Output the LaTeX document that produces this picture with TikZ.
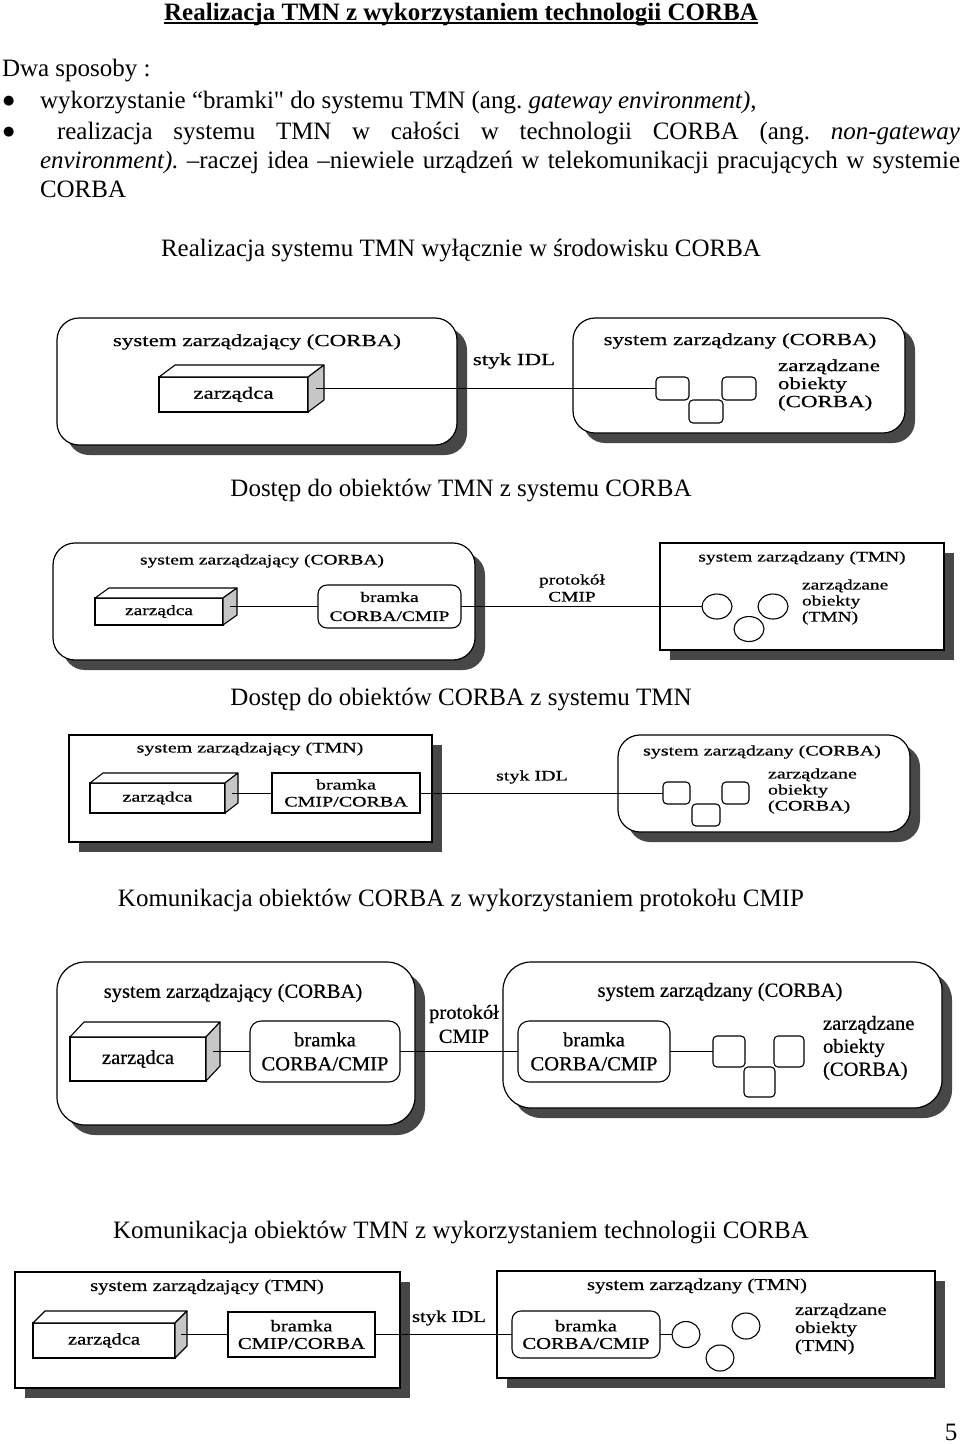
\documentclass[tikz,border=0pt]{standalone}
\usepackage{fontspec}
\setmainfont{Liberation Serif}
\newfontfamily\dfa[FakeStretch=1.35,FakeBold=0.6]{Liberation Serif}
\newfontfamily\dfb[FakeStretch=1.34,FakeBold=0.6]{Liberation Serif}
\newfontfamily\dfc[FakeStretch=1.38,FakeBold=0.6]{Liberation Serif}
\newfontfamily\dfd[FakeStretch=1.03,FakeBold=0.6]{Liberation Serif}
\newfontfamily\dfe[FakeStretch=1.25,FakeBold=0.6]{Liberation Serif}
\newfontfamily\plainq[Ligatures=TeXOff]{Liberation Serif}
\newfontfamily\bulfont{DejaVu Sans}
\usetikzlibrary{shadows,shapes.geometric,calc}
\frenchspacing
\tikzset{
  body/.style={inner sep=0, outer sep=0, font=\fontsize{25}{30}\selectfont, anchor=base west},
  bull/.style={inner sep=0, outer sep=0, font=\bulfont\fontsize{13}{14}\selectfont, anchor=base west},
  capt/.style={inner sep=0, outer sep=0, font=\fontsize{25}{30}\selectfont, anchor=base},
  sysbox/.style={draw, line width=1.2pt, fill=white, inner sep=0, outer sep=0, anchor=north west,
     drop shadow={shadow xshift=10pt, shadow yshift=-10pt, fill=black!72, opacity=1}},
  roundsys/.style={sysbox, rounded corners=22pt},
  sqsys/.style={sysbox},
  gate/.style={draw, line width=1.1pt, fill=white, inner sep=0, outer sep=0, anchor=north west, rounded corners=9pt, align=center},
  gatesq/.style={draw, line width=1.1pt, fill=white, inner sep=0, outer sep=0, anchor=north west, align=center},
  obj/.style={draw, line width=1.1pt, fill=white, inner sep=0, outer sep=0, anchor=north west, rounded corners=4pt},
  circ/.style={draw, ellipse, line width=1.1pt, fill=white, inner sep=0, outer sep=0},
  cubefront/.style={draw, line width=1.1pt, fill=white, inner sep=0, outer sep=0, anchor=north west},
  cubeline/.style={line width=1.1pt, line join=round},
  conn/.style={line width=1pt},
  fa/.style={inner sep=0, outer sep=0, font=\dfa\fontsize{17}{18}\selectfont},
  fb/.style={inner sep=0, outer sep=0, font=\dfb\fontsize{14.5}{16}\selectfont},
  fc/.style={inner sep=0, outer sep=0, font=\dfc\fontsize{14.5}{16}\selectfont},
  fd/.style={inner sep=0, outer sep=0, font=\dfd\fontsize{20}{23}\selectfont},
  fe/.style={inner sep=0, outer sep=0, font=\dfe\fontsize{16.5}{18}\selectfont},
}
% name, x, y, W, H, dx, dy, style, text
\newcommand{\zcube}[9]{%
  \node[cubefront, #8, minimum width=#4pt, minimum height=#5pt] (#1) at (#2,#3) {#9};
  \draw[cubeline, fill=white] (#1.north west) -- ++(#6,-#7) -- ++(#4,0) -- (#1.north east) -- cycle;
  \draw[cubeline, fill=gray!45] (#1.north east) -- ++(#6,-#7) -- ++(0,#5) -- (#1.south east) -- cycle;
  \coordinate (#1r) at ($(#1.east)+(#6/2,-#7/2)$);
}
\begin{document}
\begin{tikzpicture}[x=1pt,y=-1pt]
\useasboundingbox (0,0) rectangle (960,1444);
\fill[white] (0,0) rectangle (960,1444);

% ---------- header text ----------
\node[inner sep=0, outer sep=0, anchor=base, font=\bfseries\fontsize{25}{30}\selectfont] (title) at (461,20) {Realizacja TMN z wykorzystaniem technologii CORBA};
\draw[line width=1.5pt] ([yshift=2.5pt]title.south west) -- ([yshift=2.5pt]title.south east);

\node[body] (t0) at (2,76) {Dwa sposoby :};
\node[bull] (bu1) at (3,104.5) {●};
\node[body] (t1) at (40,108) {wykorzystanie “bramki{\plainq "} do systemu TMN (ang. \textit{gateway environment)},};
\node[bull] (bu2) at (3,135.5) {●};
\node[body] (t2) at (57,139) {\makebox[903pt][s]{realizacja systemu TMN w całości w technologii CORBA (ang. \textit{non-gateway}}};
\node[body] (t3) at (40,168) {\makebox[920pt][s]{\textit{environment).} –raczej idea –niewiele urządzeń w telekomunikacji pracujących w systemie}};
\node[body] (t4) at (40,197) {CORBA};

\node[capt] (cap1) at (461,256) {Realizacja systemu TMN wyłącznie w środowisku CORBA};

% ---------- diagram 1 ----------
\node[roundsys, minimum width=400pt, minimum height=127pt] (L1) at (57,318) {};
\node[roundsys, minimum width=332pt, minimum height=115pt] (R1) at (573,318) {};
\node[fa] (L1t) at (257,342) {system zarządzający (CORBA)};
\node[fa] (R1t) at (740,341) {system zarządzany (CORBA)};
\zcube{z1}{159}{377}{149}{35}{16}{12}{fa}{zarządca}
\node[fa] (s1) at (514,361) {styk IDL};
\node[obj, minimum width=33pt, minimum height=23pt] (o11) at (656,377) {};
\node[obj, minimum width=34pt, minimum height=23pt] (o12) at (722,377) {};
\node[obj, minimum width=34pt, minimum height=23pt] (o13) at (689,400) {};
\draw[conn] (z1r) -- (o11.west);
\node[fa, align=left, anchor=west] (m1) at (778,385) {zarządzane\\obiekty\\(CORBA)};

\node[capt] (cap2) at (461,496) {Dostęp do obiektów TMN z systemu CORBA};

% ---------- diagram 2 ----------
\node[roundsys, minimum width=422pt, minimum height=117pt] (L2) at (53,543) {};
\node[sqsys, minimum width=284pt, minimum height=107pt] (R2) at (660,543) {};
\node[fb] (L2t) at (262,561) {system zarządzający (CORBA)};
\node[fb] (R2t) at (802,558) {system zarządzany (TMN)};
\zcube{z2}{95}{598}{128}{27}{14}{10}{fb}{zarządca}
\node[gate, fb, font=\dfb\fontsize{14.5}{19}\selectfont, minimum width=143pt, minimum height=43pt] (b2) at (318,585) {bramka\\CORBA/CMIP};
\node[fb, align=center, font=\dfb\fontsize{14.5}{17}\selectfont] (p2) at (572,588) {protokół\\CMIP};
\node[circ, minimum width=30pt, minimum height=25pt] (c21) at (717,606.5) {};
\node[circ, minimum width=30pt, minimum height=25pt] (c22) at (773,606.5) {};
\node[circ, minimum width=30pt, minimum height=25pt] (c23) at (749,629) {};
\draw[conn] (z2r) -- (b2.west);
\draw[conn] (b2.east) -- (c21.west);
\node[fb, align=left, anchor=west] (m2) at (802,602) {zarządzane\\obiekty\\(TMN)};

\node[capt] (cap3) at (461,705) {Dostęp do obiektów CORBA z systemu TMN};

% ---------- diagram 3 ----------
\node[sqsys, minimum width=363pt, minimum height=107pt] (L3) at (69,735) {};
\node[roundsys, minimum width=292pt, minimum height=97pt] (R3) at (618,735) {};
\node[fc] (L3t) at (250,749) {system zarządzający (TMN)};
\node[fc] (R3t) at (762,752) {system zarządzany (CORBA)};
\zcube{z3}{90}{783}{135}{30}{13}{10}{fc}{zarządca}
\node[gatesq, fc, font=\dfc\fontsize{14.5}{17}\selectfont, minimum width=148pt, minimum height=40pt] (b3) at (272,773) {bramka\\CMIP/CORBA};
\node[fc] (s3) at (532,777) {styk IDL};
\node[obj, minimum width=27pt, minimum height=22pt] (o31) at (663,782) {};
\node[obj, minimum width=27pt, minimum height=22pt] (o32) at (722,782) {};
\node[obj, minimum width=28pt, minimum height=22pt] (o33) at (692,804) {};
\draw[conn] (z3r) -- (b3.west);
\draw[conn] (b3.east) -- (o31.west);
\node[fc, align=left, anchor=west] (m3) at (768,791) {zarządzane\\obiekty\\(CORBA)};

\node[capt] (cap4) at (461,906) {Komunikacja obiektów CORBA z wykorzystaniem protokołu CMIP};

% ---------- diagram 4 ----------
\node[roundsys, rounded corners=28pt, minimum width=358pt, minimum height=163pt] (L4) at (57,962) {};
\node[roundsys, rounded corners=28pt, minimum width=439pt, minimum height=146pt] (R4) at (503,962) {};
\node[fd] (L4t) at (233,993) {system zarządzający (CORBA)};
\node[fd] (R4t) at (720,992) {system zarządzany (CORBA)};
\zcube{z4}{70}{1037}{136}{44}{14}{15}{fd}{zarządca}
\node[gate, fd, font=\dfd\fontsize{20}{24}\selectfont, rounded corners=11pt, minimum width=150pt, minimum height=61pt] (b41) at (250,1021) {bramka\\CORBA/CMIP};
\node[gate, fd, font=\dfd\fontsize{20}{24}\selectfont, rounded corners=11pt, minimum width=152pt, minimum height=61pt] (b42) at (518,1021) {bramka\\CORBA/CMIP};
\node[fd, align=center, font=\dfd\fontsize{20}{24}\selectfont] (p4) at (464,1024) {protokół\\CMIP};
\node[obj, minimum width=32pt, minimum height=31pt] (o41) at (713,1036) {};
\node[obj, minimum width=30pt, minimum height=31pt] (o42) at (774,1036) {};
\node[obj, minimum width=31pt, minimum height=30pt] (o43) at (744,1067) {};
\draw[conn] (z4r) -- (b41.west);
\draw[conn] (b41.east) -- (b42.west);
\draw[conn] (b42.east) -- (o41.west);
\node[fd, align=left, anchor=west] (m4) at (823,1048) {zarządzane\\obiekty\\(CORBA)};

\node[capt] (cap5) at (461,1238) {Komunikacja obiektów TMN z wykorzystaniem technologii CORBA};

% ---------- diagram 5 ----------
\node[sqsys, minimum width=385pt, minimum height=116pt] (L5) at (15,1272) {};
\node[sqsys, minimum width=438pt, minimum height=107pt] (R5) at (497,1271) {};
\node[fe] (L5t) at (207,1287) {system zarządzający (TMN)};
\node[fe] (R5t) at (697,1286) {system zarządzany (TMN)};
\zcube{z5}{33}{1323}{142}{35}{12}{12}{fe}{zarządca}
\node[gatesq, fe, font=\dfe\fontsize{16.5}{17.5}\selectfont, minimum width=147pt, minimum height=45pt] (b51) at (228,1312) {bramka\\CMIP/CORBA};
\node[gate, fe, font=\dfe\fontsize{16.5}{17.5}\selectfont, minimum width=148pt, minimum height=47pt] (b52) at (512,1311) {bramka\\CORBA/CMIP};
\node[fe] (s5) at (449,1318) {styk IDL};
\node[circ, minimum width=28pt, minimum height=26pt] (c51) at (686,1334.5) {};
\node[circ, minimum width=28pt, minimum height=26pt] (c52) at (746,1326) {};
\node[circ, minimum width=28pt, minimum height=26pt] (c53) at (720,1358) {};
\draw[conn] (z5r) -- (b51.west);
\draw[conn] (b51.east) -- (b52.west);
\draw[conn] (b52.east) -- (c51.west);
\node[fe, align=left, anchor=west] (m5) at (795,1329) {zarządzane\\obiekty\\(TMN)};

\node[capt] (pg) at (951,1440) {5};
\end{tikzpicture}
\end{document}
